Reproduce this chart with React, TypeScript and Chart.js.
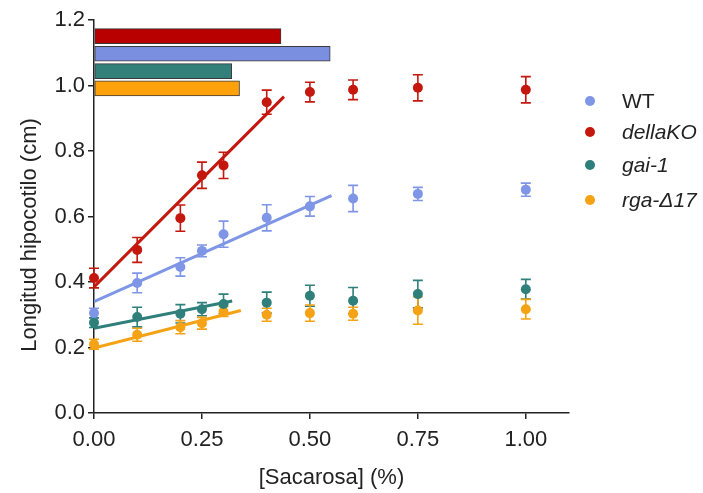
import React, { useEffect, useRef } from 'react';
import { Chart, registerables } from 'chart.js';

Chart.register(...registerables);

// Sucrose concentrations (%)
const concentrations = [0, 0.1, 0.2, 0.25, 0.3, 0.4, 0.5, 0.6, 0.75, 1.0];

// Hypocotyl length (cm): means and error (±)
const wtMean = [0.305, 0.397, 0.446, 0.495, 0.546, 0.596, 0.631, 0.655, 0.669, 0.682];
const wtErr = [0.015, 0.03, 0.028, 0.018, 0.04, 0.04, 0.03, 0.04, 0.02, 0.02];
const dellaMean = [0.412, 0.498, 0.595, 0.726, 0.756, 0.949, 0.98, 0.987, 0.993, 0.987];
const dellaErr = [0.03, 0.038, 0.04, 0.04, 0.04, 0.037, 0.03, 0.03, 0.04, 0.04];
const gaiMean = [0.276, 0.293, 0.303, 0.317, 0.333, 0.337, 0.358, 0.343, 0.363, 0.378];
const gaiErr = [0.015, 0.03, 0.028, 0.02, 0.03, 0.032, 0.032, 0.04, 0.042, 0.03];
const rgaMean = [0.21, 0.239, 0.262, 0.274, 0.31, 0.3, 0.305, 0.303, 0.313, 0.317];
const rgaErr = [0.015, 0.02, 0.02, 0.018, 0.015, 0.02, 0.025, 0.02, 0.042, 0.03];

// Linear fits: [x, y] at start and end
const wtFit = [[0, 0.34], [0.55, 0.664]];
const dellaFit = [[0, 0.385], [0.44, 0.966]];
const gaiFit = [[0, 0.259], [0.32, 0.342]];
const rgaFit = [[0, 0.198], [0.34, 0.313]];

// Horizontal bars (slope comparison) at the top
const barLevels = [1.151, 1.097, 1.044, 0.991];
const barLengths = [0.433, 0.547, 0.319, 0.337];

const xTickValues = [0, 0.25, 0.5, 0.75, 1.0];
const yTickValues = [0, 0.2, 0.4, 0.6, 0.8, 1.0, 1.2];

const seriesNames = ['WT', 'dellaKO', 'gai-1', 'rga-Δ17'];
const legendItalic = [false, true, true, true];
const seriesColors = ['#7f95e6', '#c4180f', '#2f7f7b', '#f5a214'];
const barColors = ['#b80000', '#7b8fe0', '#337f79', '#ffa10a'];

const FONT = "'Liberation Sans', Arial, sans-serif";
const INK = '#222';

const means = [wtMean, dellaMean, gaiMean, rgaMean];
const errs = [wtErr, dellaErr, gaiErr, rgaErr];
const fits = [wtFit, dellaFit, gaiFit, rgaFit];

const errorBarPlugin = {
  id: 'errorBars',
  beforeDatasetsDraw(chart: any) {
    const { ctx, scales } = chart;
    const x = scales.x;
    const y = scales.y;
    means.forEach((m, s) => {
      ctx.save();
      ctx.strokeStyle = seriesColors[s];
      ctx.lineWidth = 1.6;
      concentrations.forEach((c, i) => {
        const px = x.getPixelForValue(c);
        const top = y.getPixelForValue(m[i] + errs[s][i]);
        const bot = y.getPixelForValue(m[i] - errs[s][i]);
        ctx.beginPath();
        ctx.moveTo(px, top);
        ctx.lineTo(px, bot);
        ctx.moveTo(px - 5, top);
        ctx.lineTo(px + 5, top);
        ctx.moveTo(px - 5, bot);
        ctx.lineTo(px + 5, bot);
        ctx.stroke();
      });
      ctx.restore();
    });
  },
};

const yTitlePlugin = {
  id: 'yTitle',
  afterDraw(chart: any) {
    const { ctx } = chart;
    ctx.save();
    ctx.translate(30, 235);
    ctx.rotate(-Math.PI / 2);
    ctx.font = `22px ${FONT}`;
    ctx.fillStyle = INK;
    ctx.textAlign = 'center';
    ctx.textBaseline = 'middle';
    ctx.fillText('Longitud hipocotilo (cm)', 0, 0);
    ctx.restore();
  },
};

export default function App() {
  const canvasRef = useRef<HTMLCanvasElement | null>(null);

  useEffect(() => {
    if (!canvasRef.current) return;
    const scatterSets = means.map((m, s) => ({
      type: 'scatter' as const,
      label: seriesNames[s],
      data: concentrations.map((c, i) => ({ x: c, y: m[i] })),
      backgroundColor: seriesColors[s],
      borderColor: seriesColors[s],
      pointRadius: 5,
      pointBorderWidth: 0,
      showLine: false,
      clip: false as any,
      order: 0,
    }));
    const lineSets = fits.map((f, s) => ({
      type: 'line' as const,
      label: seriesNames[s] + ' fit',
      data: f.map((p) => ({ x: p[0], y: p[1] })),
      borderColor: seriesColors[s],
      borderWidth: 3,
      pointRadius: 0,
      fill: false,
      order: 1,
    }));
    const barSet = {
      type: 'bar' as const,
      label: 'slopes',
      indexAxis: 'y' as const,
      data: barLengths.map((v, i) => ({ x: [0, v], y: barLevels[i] })),
      backgroundColor: barColors,
      borderColor: '#3a3a3a',
      borderWidth: 1,
      borderSkipped: false,
      barThickness: 15,
      order: 2,
    };

    const chart = new Chart(canvasRef.current, {
      type: 'scatter',
      data: { datasets: [...scatterSets, ...lineSets, barSet] as any },
      options: {
        responsive: false,
        animation: false,
        devicePixelRatio: 1,
        layout: { padding: { top: 20, right: 134, bottom: 0, left: 0 } },
        plugins: {
          legend: { display: false },
          tooltip: { enabled: false },
        },
        scales: {
          x: {
            type: 'linear',
            position: 'bottom',
            min: 0,
            max: 1.1,
            offset: false,
            afterBuildTicks: (scale: any) => {
              scale.ticks = xTickValues.map((value) => ({ value }));
            },
            afterFit: (scale: any) => {
              scale.height = 80;
            },
            ticks: {
              callback: (v: any) => Number(v).toFixed(2),
              font: { size: 22, family: FONT },
              color: INK,
              padding: 8,
              maxRotation: 0,
            },
            grid: {
              display: true,
              offset: false,
              drawOnChartArea: false,
              drawTicks: true,
              tickLength: 6,
              color: INK,
              lineWidth: 1.5,
            },
            border: { display: true, color: INK, width: 1.5 },
            title: {
              display: true,
              text: '[Sacarosa] (%)',
              font: { size: 22, family: FONT },
              color: INK,
              padding: { top: 0, bottom: 2 },
            },
          },
          y: {
            type: 'linear',
            min: 0,
            max: 1.2,
            offset: false,
            afterBuildTicks: (scale: any) => {
              scale.ticks = yTickValues.map((value) => ({ value }));
            },
            afterFit: (scale: any) => {
              scale.width = 94;
            },
            ticks: {
              callback: (v: any) => Number(v).toFixed(1),
              font: { size: 22, family: FONT },
              color: INK,
              padding: 3,
            },
            grid: {
              display: true,
              offset: false,
              drawOnChartArea: false,
              drawTicks: true,
              tickLength: 6,
              color: INK,
              lineWidth: 1.5,
            },
            border: { display: true, color: INK, width: 1.5 },
          },
        },
      },
      plugins: [errorBarPlugin, yTitlePlugin],
    });
    return () => chart.destroy();
  }, []);

  const legendTops = [101, 132, 165, 200];

  return (
    <div style={{ position: 'absolute', left: 0, top: 0, width: 703, height: 493, background: '#fff' }}>
      <canvas ref={canvasRef} width={703} height={493} style={{ display: 'block', width: 703, height: 493 }} />
      {seriesNames.map((name, i) => (
        <div
          key={name}
          style={{
            position: 'absolute',
            left: 585,
            top: legendTops[i] - 13,
            height: 26,
            display: 'flex',
            alignItems: 'center',
            fontFamily: FONT,
            fontSize: 21,
            color: INK,
            fontStyle: legendItalic[i] ? 'italic' : 'normal',
            whiteSpace: 'nowrap',
          }}
        >
          <span
            style={{
              display: 'inline-block',
              width: 10,
              height: 10,
              borderRadius: '50%',
              background: seriesColors[i],
              marginRight: 27,
            }}
          />
          {name}
        </div>
      ))}
    </div>
  );
}
